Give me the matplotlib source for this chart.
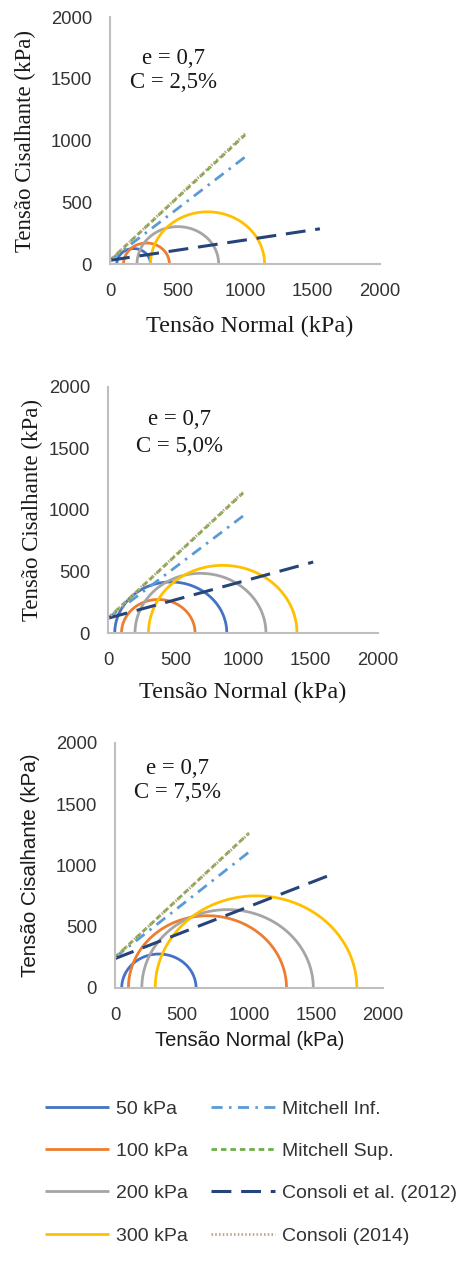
import numpy as np
import matplotlib
matplotlib.use("Agg")
import matplotlib.pyplot as plt

# ---------------- data ----------------
pressures = ["50 kPa", "100 kPa", "200 kPa", "300 kPa"]
annot_e = "e = 0,7"
annot_c = ["C = 2,5%", "C = 5,0%", "C = 7,5%"]

# Mohr circles: minor (sigma3) and major (sigma1) principal stresses, per panel
sigma3_p1 = [50, 100, 200, 300]
sigma1_p1 = [300, 440, 805, 1145]
sigma3_p2 = [50, 100, 200, 300]
sigma1_p2 = [880, 645, 1170, 1400]
sigma3_p3 = [50, 100, 200, 300]
sigma1_p3 = [605, 1280, 1480, 1805]

# envelope lines: x (normal stress) and y (shear stress) end points
mit_inf_x = [0, 1000]
mit_inf_y_p1 = [30, 866]
mit_inf_y_p2 = [120, 951]
mit_inf_y_p3 = [250, 1110]

mit_sup_x = [0, 1000]
mit_sup_y_p1 = [30, 1045]
mit_sup_y_p2 = [120, 1138]
mit_sup_y_p3 = [250, 1265]

cons12_x_p1 = [0, 1555]
cons12_y_p1 = [30, 285]
cons12_x_p2 = [0, 1520]
cons12_y_p2 = [120, 577]
cons12_x_p3 = [0, 1605]
cons12_y_p3 = [240, 922]

cons14_x = [0, 1000]
cons14_y_p1 = [30, 1055]
cons14_y_p2 = [120, 1145]
cons14_y_p3 = [250, 1262]

line_labels = ["Mitchell Inf.", "Mitchell Sup.", "Consoli et al. (2012)", "Consoli (2014)"]
ticks = [0, 500, 1000, 1500, 2000]

# ---------------- styles ----------------
circle_colors = ["#4472C4", "#ED7D31", "#A5A5A5", "#FFC000"]
c_inf = "#5B9BD5"
c_sup = "#70AD47"
c_c12 = "#264478"
c_c14 = "#C9A27E"
LW = 2.0

W, H = 471, 1262
fig = plt.figure(figsize=(W / 100, H / 100), dpi=100)
fig.patch.set_facecolor("white")

SERIF = ["Liberation Serif", "DejaVu Serif"]
SANS = ["Liberation Sans", "DejaVu Sans"]

# axes boxes in pixel coordinates: x0, x1 (0..2000), y_bottom(0), y_top(2000)
boxes = [(110, 380, 264, 17), (108, 378, 633, 387), (115, 383, 988, 743)]

panels = [
    (sigma3_p1, sigma1_p1, mit_inf_y_p1, mit_sup_y_p1, cons12_x_p1, cons12_y_p1, cons14_y_p1),
    (sigma3_p2, sigma1_p2, mit_inf_y_p2, mit_sup_y_p2, cons12_x_p2, cons12_y_p2, cons14_y_p2),
    (sigma3_p3, sigma1_p3, mit_inf_y_p3, mit_sup_y_p3, cons12_x_p3, cons12_y_p3, cons14_y_p3),
]

# label settings per panel
label_cfg = [
    (SERIF, 16.5, 17.5, 25, 326, 250, (467, 1668), (467, 1466)),
    (SERIF, 16.5, 17.5, 32, 692, 243, (533, 1732), (533, 1520)),
    (SANS, 14.8, 14.5, 31, 1040, 250, (463, 1788), (463, 1592)),
]

theta = np.linspace(0, np.pi, 300)
axes = []
for i, (box, pdata, cfg) in enumerate(zip(boxes, panels, label_cfg)):
    x0, x1, yb, yt = box
    ax = fig.add_axes([x0 / W, 1 - yb / H, (x1 - x0) / W, (yb - yt) / H])
    axes.append(ax)
    s3, s1, yinf, ysup, xc12, yc12, yc14 = pdata
    for a, b, col, lab in zip(s3, s1, circle_colors, pressures):
        c = (a + b) / 2.0
        r = (b - a) / 2.0
        ax.plot(c + r * np.cos(theta), r * np.sin(theta), color=col, lw=LW,
                label=lab, clip_on=False, solid_capstyle="butt")
    ax.plot(mit_inf_x, yinf, color=c_inf, lw=LW, dashes=(4, 2.3, 0.9, 2.3),
            label=line_labels[0], clip_on=False)
    ax.plot(mit_sup_x, ysup, color=c_sup, lw=LW, dashes=(2.0, 1.4),
            label=line_labels[1], clip_on=False)
    ax.plot(xc12, yc12, color=c_c12, lw=LW + 0.2, dashes=(6.5, 3.2),
            label=line_labels[2], clip_on=False)
    ax.plot(cons14_x, yc14, color=c_c14, lw=LW, dashes=(0.55, 0.8),
            label=line_labels[3], clip_on=False)

    ax.set_xlim(0, 2000)
    ax.set_ylim(0, 2000)
    ax.set_xticks(ticks)
    ax.set_yticks(ticks)
    ax.tick_params(length=0, labelsize=13.3, labelcolor="#333333")
    ax.tick_params(axis="x", pad=14)
    ax.tick_params(axis="y", pad=13)
    for lbl in ax.get_xticklabels() + ax.get_yticklabels():
        lbl.set_family(SANS)
    for s in ["top", "right"]:
        ax.spines[s].set_visible(False)
    for s in ["left", "bottom"]:
        ax.spines[s].set_color("#BFBFBF")
        ax.spines[s].set_linewidth(1.5)
    ax.patch.set_alpha(0)

    fam, ysz, xsz, ylx, xly, xlx, pe, pc = cfg
    fig.text(ylx / W, 1 - ((yb + yt) / 2) / H, "Tensão Cisalhante (kPa)", rotation=90,
             ha="center", va="center", family=fam, fontsize=ysz, color="#1a1a1a")
    fig.text(xlx / W, 1 - xly / H, "Tensão Normal (kPa)",
             ha="center", va="center", family=fam, fontsize=xsz, color="#1a1a1a")
    ax.text(pe[0], pe[1], annot_e, ha="center", va="center", family=SERIF,
            fontsize=16.5, color="#1a1a1a")
    ax.text(pc[0], pc[1], annot_c[i], ha="center", va="center", family=SERIF,
            fontsize=16.5, color="#1a1a1a")

# ---------------- legend ----------------
handles, labels = axes[2].get_legend_handles_labels()
leg = fig.legend(handles, labels,
                 ncol=2, loc="upper left", bbox_to_anchor=(45 / W, 1 - 1100 / H),
                 frameon=False, borderpad=0, borderaxespad=0,
                 handlelength=3.3, handletextpad=0.35, columnspacing=1.2,
                 labelspacing=1.27, prop={"family": SANS, "size": 14})
for t in leg.get_texts():
    t.set_color("#333333")

fig.savefig("out.png", dpi=100)
